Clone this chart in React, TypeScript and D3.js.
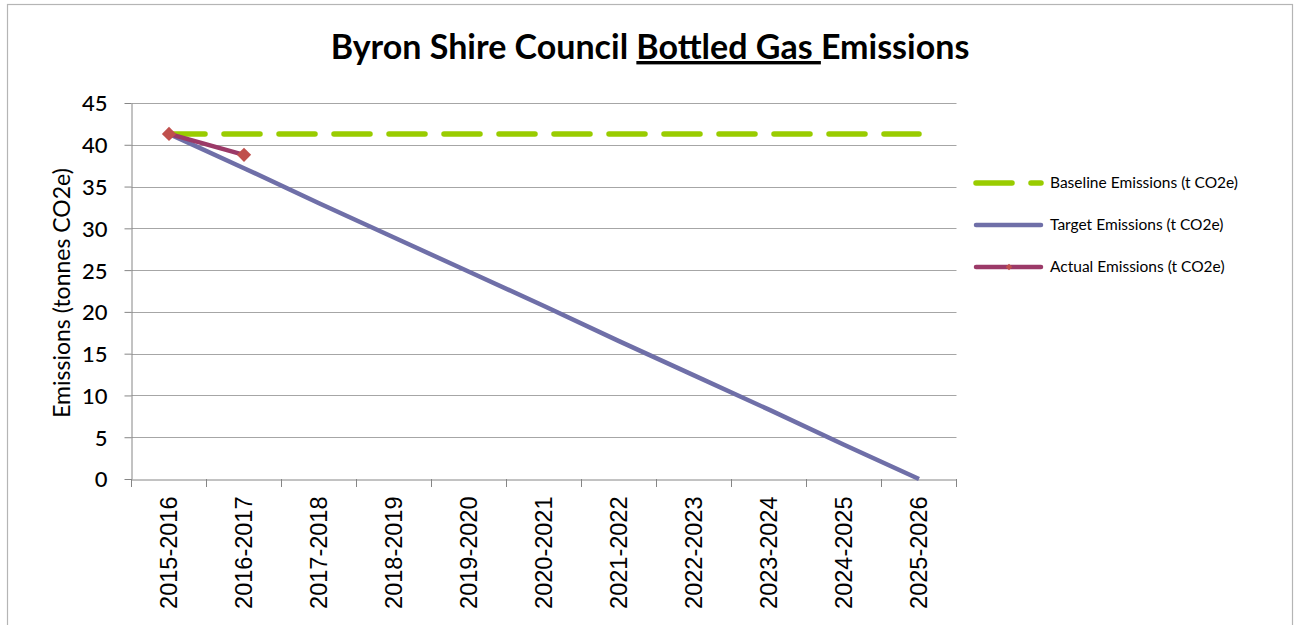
import React, { useEffect, useRef } from 'react';
import * as d3 from 'd3';

const years = ['2015-2016', '2016-2017', '2017-2018', '2018-2019', '2019-2020', '2020-2021',
    '2021-2022', '2022-2023', '2023-2024', '2024-2025', '2025-2026'];
const baseline = [41.3, 41.3, 41.3, 41.3, 41.3, 41.3, 41.3, 41.3, 41.3, 41.3, 41.3];
const target = [41.3, 37.2, 33.0, 28.9, 24.8, 20.7, 16.5, 12.4, 8.3, 4.1, 0];
const actual = [41.3, 38.8];
const yTicks = [0, 5, 10, 15, 20, 25, 30, 35, 40, 45];
const legendLabels = ['Baseline Emissions (t CO2e)', 'Target Emissions (t CO2e)', 'Actual Emissions (t CO2e)'];

const W = 1295, H = 625;
const calibri = 'Lato, "Open Sans", sans-serif';

function App() {
    const svgRef = useRef(null);

    useEffect(() => {
        if (!svgRef.current) return;
        const svg = d3.select(svgRef.current);
        svg.selectAll('*').remove();

        // chart frame
        svg.append('rect')
            .attr('x', 7.5).attr('y', 4.5)
            .attr('width', 1285).attr('height', 640)
            .attr('fill', 'white').attr('stroke', '#b5b5b5').attr('stroke-width', 1.2);

        const x = d3.scaleBand().domain(years).range([131.5, 956.5]);
        const y = d3.scaleLinear().domain([0, 45]).range([479, 103]);
        const cx = (i) => x(years[i]) + x.bandwidth() / 2;

        // gridlines
        svg.append('g').selectAll('line')
            .data(yTicks.filter(d => d > 0))
            .join('line')
            .attr('x1', 131.5).attr('x2', 956.5)
            .attr('y1', d => Math.round(y(d)) + 0.5).attr('y2', d => Math.round(y(d)) + 0.5)
            .attr('stroke', '#a6a6a6').attr('stroke-width', 1);

        // y axis
        const yAxis = svg.append('g')
            .attr('transform', 'translate(131.5,0)')
            .call(d3.axisLeft(y).tickValues(yTicks).tickSize(7).tickSizeOuter(0));
        yAxis.select('.domain').attr('stroke', '#868686');
        yAxis.selectAll('.tick line').attr('stroke', '#868686');
        yAxis.selectAll('.tick text')
            .attr('font-family', calibri).attr('font-size', 22).attr('font-weight', 500)
            .attr('fill', '#000').attr('x', -24).attr('dy', '0.36em');

        // x axis
        const xAxis = svg.append('g')
            .attr('transform', 'translate(0,479.5)')
            .call(d3.axisBottom(x).tickSize(0).tickSizeOuter(0));
        xAxis.select('.domain').attr('stroke', '#868686');
        xAxis.selectAll('.tick text')
            .attr('font-family', '"Liberation Sans", Arial, sans-serif').attr('font-size', 23.5)
            .attr('fill', '#000')
            .attr('transform', 'rotate(-90)')
            .attr('text-anchor', 'end')
            .attr('x', -17).attr('y', 0).attr('dy', '0.35em');
        svg.append('g').selectAll('line')
            .data(d3.range(years.length + 1))
            .join('line')
            .attr('x1', i => 131.5 + i * x.step()).attr('x2', i => 131.5 + i * x.step())
            .attr('y1', 479).attr('y2', 487)
            .attr('stroke', '#868686');

        const line = d3.line().x((d, i) => cx(i)).y(d => y(d));

        // series
        svg.append('path').datum(target)
            .attr('fill', 'none').attr('stroke', '#6f6fa8').attr('stroke-width', 4.5)
            .attr('d', line);
        svg.append('path').datum(baseline)
            .attr('fill', 'none').attr('stroke', '#99cc00').attr('stroke-width', 5.5)
            .attr('stroke-dasharray', '36 19').attr('stroke-linecap', 'round')
            .attr('d', line);
        svg.append('path').datum(actual)
            .attr('fill', 'none').attr('stroke', '#9b3a68').attr('stroke-width', 4.5)
            .attr('d', line);
        svg.append('g').selectAll('path')
            .data(actual)
            .join('path')
            .attr('d', d3.symbol(d3.symbolDiamond2, 130))
            .attr('transform', (d, i) => `translate(${cx(i)},${y(d)})`)
            .attr('fill', '#c0504d');

        // title
        const title = svg.append('text')
            .attr('x', 650).attr('y', 59)
            .attr('text-anchor', 'middle')
            .attr('font-family', calibri).attr('font-weight', 'bold').attr('font-size', 34)
            .attr('fill', '#000');
        title.append('tspan').text('Byron Shire Council ');
        title.append('tspan').text('Bottled Gas ').attr('text-decoration', 'underline');
        title.append('tspan').text('Emissions');

        // y label
        svg.append('text')
            .attr('transform', 'translate(70,293) rotate(-90)')
            .attr('text-anchor', 'middle')
            .attr('font-family', calibri).attr('font-size', 23)
            .attr('fill', '#000')
            .text('Emissions (tonnes CO2e)');

        // legend
        const leg = svg.append('g');
        const rows = [183, 225, 267];
        leg.append('line')
            .attr('x1', 976).attr('x2', 1041).attr('y1', rows[0]).attr('y2', rows[0])
            .attr('stroke', '#99cc00').attr('stroke-width', 5.5)
            .attr('stroke-linecap', 'round').attr('stroke-dasharray', '36 19');
        leg.append('line')
            .attr('x1', 976).attr('x2', 1041).attr('y1', rows[1]).attr('y2', rows[1])
            .attr('stroke', '#6f6fa8').attr('stroke-width', 4.5).attr('stroke-linecap', 'round');
        leg.append('line')
            .attr('x1', 976).attr('x2', 1041).attr('y1', rows[2]).attr('y2', rows[2])
            .attr('stroke', '#9b3a68').attr('stroke-width', 4.5).attr('stroke-linecap', 'round');
        leg.append('path')
            .attr('d', d3.symbol(d3.symbolDiamond2, 28))
            .attr('transform', `translate(1009,${rows[2]})`)
            .attr('fill', '#c0504d');
        leg.selectAll('text')
            .data(legendLabels)
            .join('text')
            .attr('x', 1050).attr('y', (d, i) => rows[i])
            .attr('dy', '0.35em')
            .attr('font-family', calibri).attr('font-size', 15.5)
            .attr('fill', '#000')
            .text(d => d);
    }, []);

    return <svg ref={svgRef} width={W} height={H} style={{ position: 'absolute', left: 0, top: 0 }} />;
}

export default App;
